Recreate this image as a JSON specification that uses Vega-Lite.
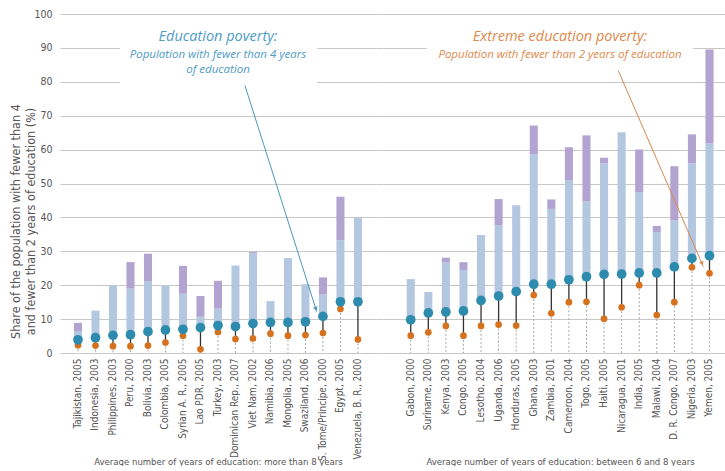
{
  "$schema": "https://vega.github.io/schema/vega-lite/v6.json",
  "background": "white",
  "padding": {"left": 9, "top": 9, "right": 0, "bottom": 0},
  "spacing": 0,
  "bounds": "flush",
  "config": {
    "view": {"stroke": null},
    "axis": {
      "labelFont": "Liberation Sans Narrow, DejaVu Sans Condensed, sans-serif",
      "titleFont": "Liberation Sans Narrow, DejaVu Sans Condensed, sans-serif",
      "labelColor": "#555555",
      "titleColor": "#555555",
      "titleFontWeight": "normal",
      "gridColor": "#c8c8c8"
    },
    "text": {"font": "Open Sans"}
  },
  "datasets": {
    "left": [
      {"country": "Tajikistan, 2005", "ep": 3.9, "eep": 2.3, "mid": 6.5, "top": 8.9},
      {"country": "Indonesia, 2003", "ep": 4.5, "eep": 2.2, "mid": 12.5, "top": 12.5},
      {"country": "Philippines, 2003", "ep": 5.2, "eep": 2.0, "mid": 19.9, "top": 19.9},
      {"country": "Peru, 2000", "ep": 5.4, "eep": 2.0, "mid": 19.0, "top": 26.8},
      {"country": "Bolivia, 2003", "ep": 6.3, "eep": 2.2, "mid": 21.2, "top": 29.3},
      {"country": "Colombia, 2005", "ep": 6.8, "eep": 3.1, "mid": 19.9, "top": 19.9},
      {"country": "Syrian A. R., 2005", "ep": 7.0, "eep": 5.1, "mid": 17.5, "top": 25.7},
      {"country": "Lao PDR, 2005", "ep": 7.5, "eep": 1.1, "mid": 10.7, "top": 16.8},
      {"country": "Turkey, 2003", "ep": 8.1, "eep": 6.2, "mid": 13.1, "top": 21.3},
      {"country": "Dominican Rep., 2007", "ep": 7.8, "eep": 4.1, "mid": 25.8, "top": 25.8},
      {"country": "Viet Nam, 2002", "ep": 8.7, "eep": 4.3, "mid": 29.4, "top": 29.8},
      {"country": "Namibia, 2006", "ep": 9.0, "eep": 5.7, "mid": 15.3, "top": 15.3},
      {"country": "Mongolia, 2005", "ep": 9.0, "eep": 5.1, "mid": 28.0, "top": 28.0},
      {"country": "Swaziland, 2006", "ep": 9.2, "eep": 5.3, "mid": 20.3, "top": 20.3},
      {"country": "S. Tome/Principe, 2000", "ep": 10.8, "eep": 5.9, "mid": 17.2, "top": 22.3},
      {"country": "Egypt, 2005", "ep": 15.1, "eep": 13.0, "mid": 33.3, "top": 46.1},
      {"country": "Venezuela, B. R., 2000", "ep": 15.1, "eep": 4.0, "mid": 39.8, "top": 39.8}
    ],
    "right": [
      {"country": "Gabon, 2000", "ep": 9.8, "eep": 5.1, "mid": 21.8, "top": 21.8},
      {"country": "Suriname, 2000", "ep": 11.8, "eep": 6.1, "mid": 18.0, "top": 18.0},
      {"country": "Kenya, 2003", "ep": 12.1, "eep": 8.0, "mid": 26.7, "top": 28.1},
      {"country": "Congo, 2005", "ep": 12.4, "eep": 5.1, "mid": 24.5, "top": 26.8},
      {"country": "Lesotho, 2004", "ep": 15.5, "eep": 8.0, "mid": 34.8, "top": 34.8},
      {"country": "Uganda, 2006", "ep": 16.8, "eep": 8.4, "mid": 37.7, "top": 45.4},
      {"country": "Honduras, 2005", "ep": 18.1, "eep": 8.1, "mid": 43.6, "top": 43.6},
      {"country": "Ghana, 2003", "ep": 20.3, "eep": 17.1, "mid": 58.6, "top": 67.1},
      {"country": "Zambia, 2001", "ep": 20.3, "eep": 11.7, "mid": 42.5, "top": 45.3},
      {"country": "Cameroon, 2004", "ep": 21.6, "eep": 15.0, "mid": 51.0, "top": 60.7},
      {"country": "Togo, 2005", "ep": 22.5, "eep": 15.1, "mid": 44.8, "top": 64.2},
      {"country": "Haiti, 2005", "ep": 23.2, "eep": 10.1, "mid": 55.9, "top": 57.6},
      {"country": "Nicaragua, 2001", "ep": 23.3, "eep": 13.5, "mid": 65.1, "top": 65.1},
      {"country": "India, 2005", "ep": 23.6, "eep": 20.0, "mid": 47.5, "top": 60.0},
      {"country": "Malawi, 2004", "ep": 23.6, "eep": 11.2, "mid": 35.7, "top": 37.5},
      {"country": "D. R. Congo, 2007", "ep": 25.4, "eep": 15.0, "mid": 39.2, "top": 55.1},
      {"country": "Nigeria, 2003", "ep": 27.9, "eep": 25.3, "mid": 55.9, "top": 64.5},
      {"country": "Yemen, 2005", "ep": 28.7, "eep": 23.5, "mid": 61.8, "top": 89.5}
    ],
    "annL_text": [
      {"x": 8.0, "y": 93.3, "text": "Education poverty:", "k": "h"},
      {"x": 8.0, "y": 87.9, "text": "Population with fewer than 4 years", "k": "s"},
      {"x": 8.0, "y": 83.4, "text": "of education", "k": "s"}
    ],
    "annL_gap": [
      {"y": 90, "x1": 2.4, "x2": 13.66},
      {"y": 80, "x1": 2.4, "x2": 13.66}
    ],
    "annL_arrow": [
      {"x": 9.54, "y": 78.9},
      {"x": 13.64, "y": 12.2}
    ],
    "annL_head": [{"x": 13.59, "y": 13.0}],
    "annR_text": [
      {"x": 8.53, "y": 93.3, "text": "Extreme education poverty:", "k": "h"},
      {"x": 8.53, "y": 87.8, "text": "Population with fewer than 2 years of education", "k": "s"}
    ],
    "annR_gap": [{"y": 90, "x1": 0.93, "x2": 16.13}],
    "annR_arrow": [
      {"x": 11.86, "y": 83.3},
      {"x": 16.72, "y": 25.5}
    ],
    "annR_head": [{"x": 16.65, "y": 26.4}]
  },
  "hconcat": [
    {
      "width": 323,
      "height": 339,
      "resolve": {"scale": {"x": "independent"}},
      "layer": [
        {
          "data": {"name": "left"},
          "encoding": {
            "x": {
              "field": "country", "type": "nominal", "sort": null,
              "scale": {"paddingInner": 0.54, "paddingOuter": 1, "align": 0.399, "round": false},
              "axis": {
                "title": "Average number of years of education: more than 8 years",
                "labelAngle": -90, "ticks": false, "domain": false, "labelPadding": 5,
                "labelFontSize": 10, "titleFontSize": 9.5, "titleY": 103, "titleX": 158
              }
            }
          },
          "layer": [
            {
              "mark": {"type": "rule", "color": "#a5a5a5", "strokeDash": [2, 2], "strokeWidth": 1},
              "encoding": {
                "y": {
                  "field": "eep", "type": "quantitative",
                  "scale": {"domain": [0, 100], "nice": false},
                  "axis": {
                    "title": ["Share of the population with fewer than 4", "and fewer than 2 years of education (%)"],
                    "tickCount": 10, "grid": true, "domain": false, "ticks": false,
                    "labelPadding": 8, "labelFontSize": 10.5, "titleFontSize": 12.5,
                    "titleX": -37.5, "titleY": 207, "titleLineHeight": 15
                  }
                },
                "y2": {"datum": 0}
              }
            },
            {
              "mark": {"type": "bar", "color": "#b4c7e1"},
              "encoding": {"y": {"field": "ep", "type": "quantitative"}, "y2": {"field": "mid"}}
            },
            {
              "mark": {"type": "bar", "color": "#b3a3d0"},
              "encoding": {"y": {"field": "mid", "type": "quantitative"}, "y2": {"field": "top"}}
            },
            {
              "mark": {"type": "rule", "color": "#333333", "strokeWidth": 1.3},
              "encoding": {"y": {"field": "eep", "type": "quantitative"}, "y2": {"field": "ep"}}
            },
            {
              "mark": {"type": "point", "filled": true, "color": "#d6721e", "size": 45, "opacity": 1},
              "encoding": {"y": {"field": "eep", "type": "quantitative"}}
            },
            {
              "mark": {"type": "point", "filled": true, "color": "#2d8bad", "size": 95, "opacity": 1},
              "encoding": {"y": {"field": "ep", "type": "quantitative"}}
            }
          ]
        },
        {
          "layer": [
            {
              "data": {"name": "annL_gap"},
              "mark": {"type": "rule", "color": "white", "strokeWidth": 3},
              "encoding": {
                "x": {"field": "x1", "type": "quantitative", "scale": {"domain": [-1.0286, 17.4286], "nice": false, "zero": false}, "axis": null},
                "x2": {"field": "x2"},
                "y": {"field": "y", "type": "quantitative"}
              }
            },
            {
              "data": {"name": "annL_text"},
              "transform": [{"filter": "datum.k === 'h'"}],
              "mark": {"type": "text", "fontStyle": "italic", "fontSize": 14.5, "color": "#4f9cc6", "align": "center", "baseline": "middle"},
              "encoding": {
                "x": {"field": "x", "type": "quantitative"},
                "y": {"field": "y", "type": "quantitative"},
                "text": {"field": "text"}
              }
            },
            {
              "data": {"name": "annL_text"},
              "transform": [{"filter": "datum.k === 's'"}],
              "mark": {"type": "text", "fontStyle": "italic", "fontSize": 11.5, "color": "#4f9cc6", "align": "center", "baseline": "middle"},
              "encoding": {
                "x": {"field": "x", "type": "quantitative"},
                "y": {"field": "y", "type": "quantitative"},
                "text": {"field": "text"}
              }
            },
            {
              "data": {"name": "annL_arrow"},
              "mark": {"type": "line", "color": "#4a97be", "strokeWidth": 1},
              "encoding": {
                "x": {"field": "x", "type": "quantitative"},
                "y": {"field": "y", "type": "quantitative"}
              }
            },
            {
              "data": {"name": "annL_head"},
              "mark": {"type": "point", "shape": "triangle-up", "filled": true, "color": "#4a97be", "size": 22, "angle": 162, "opacity": 1},
              "encoding": {
                "x": {"field": "x", "type": "quantitative"},
                "y": {"field": "y", "type": "quantitative"}
              }
            }
          ]
        }
      ]
    },
    {
      "width": 342,
      "height": 339,
      "resolve": {"scale": {"x": "independent"}},
      "layer": [
        {
          "data": {"name": "right"},
          "encoding": {
            "x": {
              "field": "country", "type": "nominal", "sort": null,
              "scale": {"paddingInner": 0.54, "paddingOuter": 1, "align": 0.674, "round": false},
              "axis": {
                "title": "Average number of years of education: between 6 and 8 years",
                "labelAngle": -90, "ticks": false, "domain": false, "labelPadding": 5,
                "labelFontSize": 10, "titleFontSize": 9.5, "titleY": 103, "titleX": 177
              }
            }
          },
          "layer": [
            {
              "mark": {"type": "rule", "color": "#a5a5a5", "strokeDash": [2, 2], "strokeWidth": 1},
              "encoding": {
                "y": {
                  "field": "eep", "type": "quantitative",
                  "scale": {"domain": [0, 100], "nice": false},
                  "axis": {"title": null, "labels": false, "tickCount": 10, "grid": true, "domain": false, "ticks": false}
                },
                "y2": {"datum": 0}
              }
            },
            {
              "mark": {"type": "bar", "color": "#b4c7e1"},
              "encoding": {"y": {"field": "ep", "type": "quantitative"}, "y2": {"field": "mid"}}
            },
            {
              "mark": {"type": "bar", "color": "#b3a3d0"},
              "encoding": {"y": {"field": "mid", "type": "quantitative"}, "y2": {"field": "top"}}
            },
            {
              "mark": {"type": "rule", "color": "#333333", "strokeWidth": 1.3},
              "encoding": {"y": {"field": "eep", "type": "quantitative"}, "y2": {"field": "ep"}}
            },
            {
              "mark": {"type": "point", "filled": true, "color": "#d6721e", "size": 45, "opacity": 1},
              "encoding": {"y": {"field": "eep", "type": "quantitative"}}
            },
            {
              "mark": {"type": "point", "filled": true, "color": "#2d8bad", "size": 95, "opacity": 1},
              "encoding": {"y": {"field": "ep", "type": "quantitative"}}
            }
          ]
        },
        {
          "layer": [
            {
              "data": {"name": "annR_gap"},
              "mark": {"type": "rule", "color": "white", "strokeWidth": 3},
              "encoding": {
                "x": {"field": "x1", "type": "quantitative", "scale": {"domain": [-1.583, 17.96], "nice": false, "zero": false}, "axis": null},
                "x2": {"field": "x2"},
                "y": {"field": "y", "type": "quantitative"}
              }
            },
            {
              "data": {"name": "annR_text"},
              "transform": [{"filter": "datum.k === 'h'"}],
              "mark": {"type": "text", "fontStyle": "italic", "fontSize": 14.5, "color": "#e0894c", "align": "center", "baseline": "middle"},
              "encoding": {
                "x": {"field": "x", "type": "quantitative"},
                "y": {"field": "y", "type": "quantitative"},
                "text": {"field": "text"}
              }
            },
            {
              "data": {"name": "annR_text"},
              "transform": [{"filter": "datum.k === 's'"}],
              "mark": {"type": "text", "fontStyle": "italic", "fontSize": 11.5, "color": "#e0894c", "align": "center", "baseline": "middle"},
              "encoding": {
                "x": {"field": "x", "type": "quantitative"},
                "y": {"field": "y", "type": "quantitative"},
                "text": {"field": "text"}
              }
            },
            {
              "data": {"name": "annR_arrow"},
              "mark": {"type": "line", "color": "#d9884f", "strokeWidth": 1},
              "encoding": {
                "x": {"field": "x", "type": "quantitative"},
                "y": {"field": "y", "type": "quantitative"}
              }
            },
            {
              "data": {"name": "annR_head"},
              "mark": {"type": "point", "shape": "triangle-up", "filled": true, "color": "#d9884f", "size": 22, "angle": 157, "opacity": 1},
              "encoding": {
                "x": {"field": "x", "type": "quantitative"},
                "y": {"field": "y", "type": "quantitative"}
              }
            }
          ]
        }
      ]
    }
  ]
}
